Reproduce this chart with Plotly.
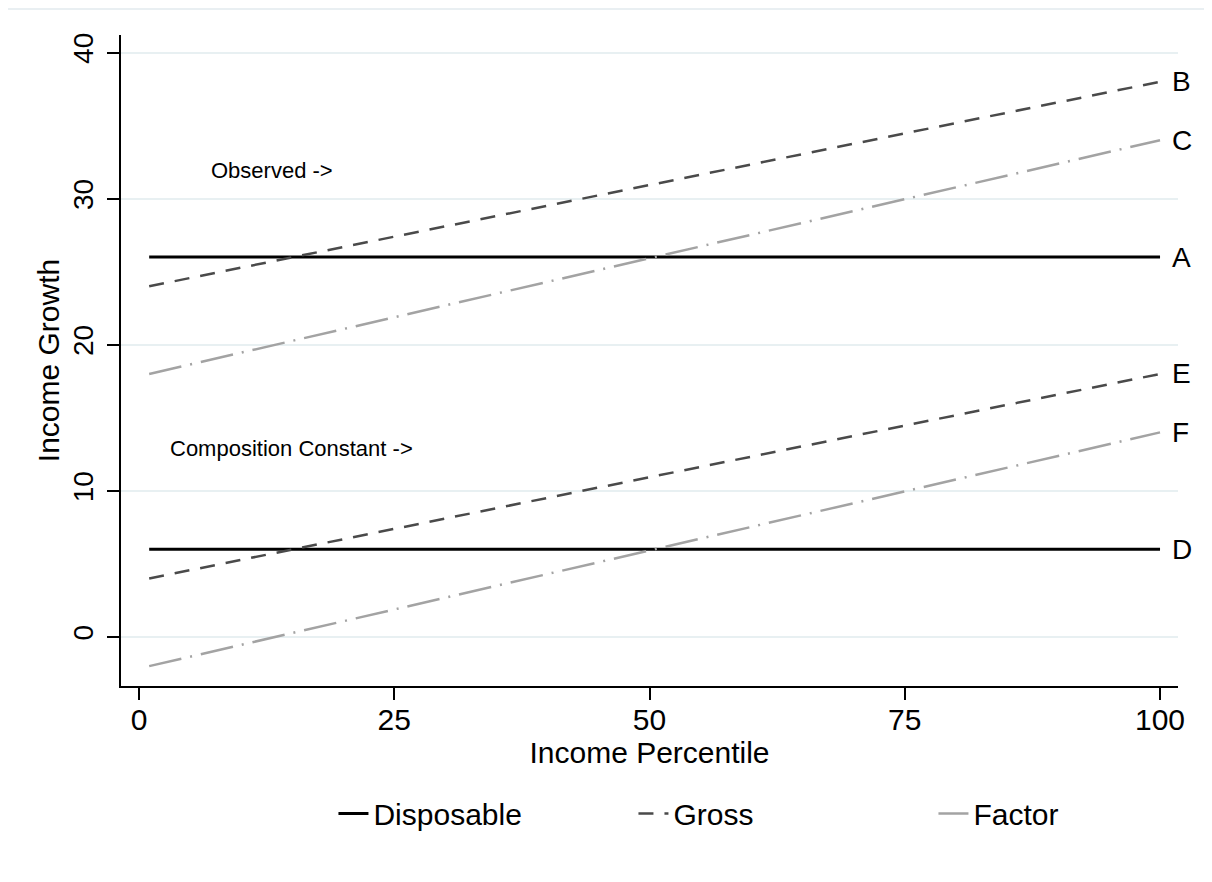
import plotly.graph_objects as go

# percentile endpoints
pct = [1, 100]

obs_disposable = [26, 26]
obs_gross = [24, 38]
obs_factor = [18, 34]

cc_disposable = [6, 6]
cc_gross = [4, 18]
cc_factor = [-2, 14]

end_labels = ["A", "B", "C", "D", "E", "F"]
end_values = [26, 38, 34, 6, 18, 14]

FONT = "Arial, Liberation Sans, sans-serif"
STYLE = {
    'Disposable': dict(color="#000000", width=3, dash="solid"),
    'Gross': dict(color="#4a4a4a", width=2.5, dash="15px,11px"),
    'Factor': dict(color="#a3a3a3", width=2.5, dash="33px,9px,2px,9px"),
}

# plot area in page pixels (page body adds 8px offset)
PL, PT, PW, PH = 113, 27, 1057, 651

fig = go.Figure()

for name, ys in [("Disposable", obs_disposable), ("Gross", obs_gross), ("Factor", obs_factor)]:
    fig.add_trace(go.Scatter(x=pct, y=ys, mode="lines", name=name, line=STYLE[name],
                             legendgroup=name, showlegend=True))
for name, ys in [("Disposable", cc_disposable), ("Gross", cc_gross), ("Factor", cc_factor)]:
    fig.add_trace(go.Scatter(x=pct, y=ys, mode="lines", name=name, line=STYLE[name],
                             legendgroup=name, showlegend=False))

# letters at the right end of each line
for lab, val in zip(end_labels, end_values):
    fig.add_annotation(x=pct[-1], y=val, text=lab, showarrow=False,
                       xanchor="left", yanchor="middle", xshift=10,
                       font=dict(family=FONT, size=28, color="#000000"))

fig.add_annotation(x=13, y=31.9, text="Observed ->", showarrow=False,
                   font=dict(family=FONT, size=22, color="#000000"))
fig.add_annotation(x=14.9, y=12.9, text="Composition Constant ->", showarrow=False,
                   font=dict(family=FONT, size=22, color="#000000"))

# faint frame on the outer edge
fig.add_shape(type="rect", xref="paper", yref="paper",
              x0=-0.2, x1=(1198 - PL) / PW, y0=-0.5, y1=(PT + PH - 1) / PH,
              line=dict(color="#e9eff2", width=2), layer="below")

fig.update_layout(
    width=1212,
    height=882,
    paper_bgcolor="white",
    plot_bgcolor="white",
    margin=dict(l=PL, r=1212 - PL - PW, t=PT, b=882 - PT - PH, autoexpand=False),
    font=dict(family=FONT, size=28, color="#000000"),
    showlegend=True,
    legend=dict(
        orientation="h",
        x=0.201, xanchor="left",
        y=-0.156, yanchor="top",
        font=dict(size=30),
        entrywidth=255,
        traceorder="normal",
        bgcolor="rgba(0,0,0,0)",
    ),
    xaxis=dict(
        range=[-1.76, 101.76],
        tickvals=[0, 25, 50, 75, 100],
        showgrid=False,
        zeroline=False,
        automargin=False,
        showline=True, linecolor="black", linewidth=1.5,
        ticks="outside", ticklen=12, tickwidth=1.5, tickcolor="black",
        tickfont=dict(size=30),
        ticklabelstandoff=-6,
        title=dict(text="Income Percentile", font=dict(size=30), standoff=0),
    ),
    yaxis=dict(
        range=[-3.36, 41.2],
        tickvals=[0, 10, 20, 30, 40],
        tickangle=-90,
        showgrid=True, gridcolor="#e8f0f2", gridwidth=2,
        zeroline=False,
        automargin=False,
        showline=True, linecolor="black", linewidth=1.5,
        ticks="outside", ticklen=12, tickwidth=1.5, tickcolor="black",
        tickfont=dict(size=28),
        ticklabelstandoff=3,
        title=dict(text="Income Growth", font=dict(size=30), standoff=0),
    ),
)

fig.write_html("out.html")
